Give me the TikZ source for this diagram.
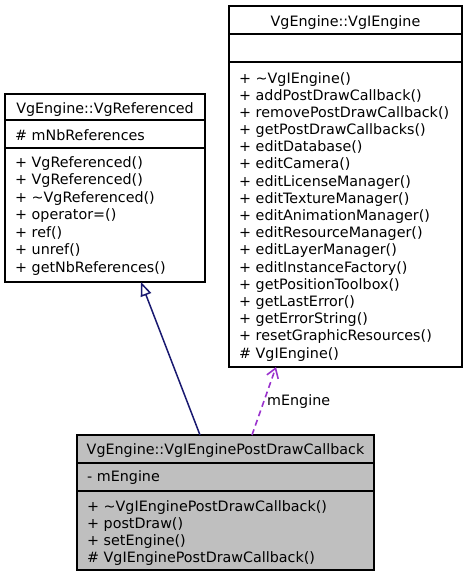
\documentclass[tikz,border=0pt]{standalone}
\usepackage{fontspec}
\setmainfont{DejaVu Sans}
\usetikzlibrary{arrows.meta,calc}
\definecolor{inhcol}{HTML}{191970}
\definecolor{usecol}{HTML}{9A32CD}
\definecolor{boxfill}{HTML}{BFBFBF}
\begin{document}
\begin{tikzpicture}[x=1pt,y=-1pt,
  umlbox/.style={draw=black,line width=1.5pt,rectangle,anchor=north west,inner sep=0pt,outer sep=0pt},
  divider/.style={draw=black,line width=1.5pt},
  txt/.style={anchor=base west,inner sep=0pt,font=\fontsize{14.3}{17}\selectfont},
  ttl/.style={anchor=base,inner sep=0pt,font=\fontsize{14.3}{17}\selectfont},
  inherit/.style={draw=inhcol,line width=1.5pt,-{Triangle[open,length=14pt,width=11pt]}},
  uses/.style={draw=usecol,line width=1.6pt,dash pattern=on 6pt off 4pt,-{Straight Barb[length=9pt,width=12pt]}}]
\useasboundingbox (0,0) rectangle (467,576);
% VgReferenced
\node[umlbox,minimum width=200pt,minimum height=188pt] (ref) at (5,94) {};
\draw[divider] ($(ref.north west)+(0,26)$) -- ($(ref.north east)+(0,26)$);
\draw[divider] ($(ref.north west)+(0,54)$) -- ($(ref.north east)+(0,54)$);
\node[ttl] (reft) at (105,113) {VgEngine::VgReferenced};
\node[txt] (refa) at (15,140) {\# mNbReferences};
\foreach \t [count=\i from 0] in {+ VgReferenced(),+ VgReferenced(),+ \textasciitilde{}VgReferenced(),+ operator=(),+ ref(),+ unref(),+ getNbReferences()}
  \node[txt] (refm\i) at (15,167+17.5*\i) {\t};
% VgIEngine
\node[umlbox,minimum width=233pt,minimum height=361pt] (eng) at (229,6) {};
\draw[divider] ($(eng.north west)+(0,28)$) -- ($(eng.north east)+(0,28)$);
\draw[divider] ($(eng.north west)+(0,56)$) -- ($(eng.north east)+(0,56)$);
\node[ttl] (engt) at (345.5,26) {VgEngine::VgIEngine};
\foreach \t [count=\i from 0] in {+ \textasciitilde{}VgIEngine(),+ addPostDrawCallback(),+ removePostDrawCallback(),+ getPostDrawCallbacks(),+ editDatabase(),+ editCamera(),+ editLicenseManager(),+ editTextureManager(),+ editAnimationManager(),+ editResourceManager(),+ editLayerManager(),+ editInstanceFactory(),+ getPositionToolbox(),+ getLastError(),+ getErrorString(),+ resetGraphicResources(),\# VgIEngine()}
  \node[txt] (engm\i) at (239,83+17.19*\i) {\t};
% VgIEnginePostDrawCallback
\node[umlbox,fill=boxfill,minimum width=297pt,minimum height=135pt] (post) at (77,435) {};
\draw[divider] ($(post.north west)+(0,28)$) -- ($(post.north east)+(0,28)$);
\draw[divider] ($(post.north west)+(0,56)$) -- ($(post.north east)+(0,56)$);
\node[ttl] (postt) at (225.5,454) {VgEngine::VgIEnginePostDrawCallback};
\node[txt] (posta) at (87,481) {- mEngine};
\foreach \t [count=\i from 0] in {+ \textasciitilde{}VgIEnginePostDrawCallback(),+ postDraw(),+ setEngine(),\# VgIEnginePostDrawCallback()}
  \node[txt] (postm\i) at (87,511+17*\i) {\t};
% connectors
\draw[inherit] ($(post.north west)+(123,0)$) -- ($(ref.south west)+(136,0)$);
\draw[uses] ($(post.north west)+(175,0)$) -- ($(eng.south west)+(47,0)$);
\node[txt] (lbl) at (267,405) {mEngine};
\end{tikzpicture}
\end{document}
